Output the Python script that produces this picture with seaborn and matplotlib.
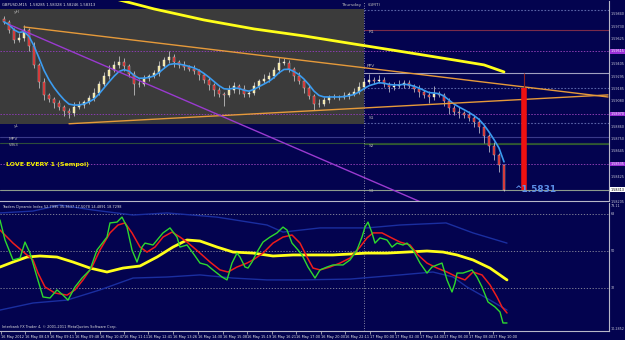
import numpy as np
import pandas as pd
import matplotlib
matplotlib.use("Agg")
import matplotlib.pyplot as plt
import seaborn as sns

# ---- price panel data (GBPUSD, M15), one entry per bar ----
FIRST_OPEN = 1.59795
CLOSES = [1.59771, 1.59701, 1.59614, 1.59631, 1.59701, 1.59562, 1.59397, 1.59249, 1.59136, 1.59101,
          1.59066, 1.59031, 1.58996, 1.58979, 1.59031, 1.59049, 1.59075, 1.59109, 1.59153, 1.59231,
          1.59301, 1.59353, 1.59397, 1.59423, 1.59388, 1.59318, 1.59231, 1.59231, 1.59283, 1.59301,
          1.59327, 1.59388, 1.59440, 1.59466, 1.59423, 1.59397, 1.59379, 1.59362, 1.59344, 1.59310,
          1.59266, 1.59223, 1.59179, 1.59144, 1.59136, 1.59179, 1.59214, 1.59188, 1.59144, 1.59153,
          1.59214, 1.59257, 1.59275, 1.59301, 1.59353, 1.59414, 1.59414, 1.59362, 1.59301, 1.59257,
          1.59196, 1.59127, 1.59057, 1.59057, 1.59092, 1.59118, 1.59118, 1.59118, 1.59127, 1.59144,
          1.59162, 1.59205, 1.59249, 1.59266, 1.59257, 1.59266, 1.59231, 1.59205, 1.59214, 1.59223,
          1.59240, 1.59214, 1.59188, 1.59162, 1.59136, 1.59118, 1.59144, 1.59136, 1.59083, 1.59022,
          1.58988, 1.58979, 1.58962, 1.58935, 1.58901, 1.58857, 1.58779, 1.58692, 1.58614, 1.58527,
          1.58313]
UP_WICK = [3, 2, 2, 4, 4, 2, 3, 2, 3, 2, 2, 3, 2, 3, 4, 3, 2, 3, 4, 3,
           3, 4, 3, 5, 3, 2, 3, 4, 3, 2, 3, 4, 3, 5, 3, 2, 3, 2, 3, 2,
           2, 3, 2, 3, 2, 4, 3, 2, 3, 2, 3, 2, 4, 3, 3, 5, 4, 3, 2, 3,
           2, 3, 2, 4, 3, 2, 3, 2, 3, 2, 3, 4, 3, 5, 3, 4, 3, 2, 3, 4,
           3, 3, 2, 3, 2, 3, 7, 3, 2, 3, 3, 4, 2, 3, 2, 3, 2, 2, 3, 2, 1]
DN_WICK = [2, 3, 3, 2, 3, 4, 3, 5, 4, 3, 4, 3, 4, 4, 3, 2, 3, 2, 3, 2,
           2, 3, 2, 3, 4, 3, 10, 3, 2, 3, 2, 3, 2, 3, 4, 3, 3, 2, 3, 4,
           3, 4, 5, 3, 10, 2, 3, 4, 3, 3, 2, 3, 2, 3, 2, 3, 2, 3, 4, 3,
           4, 3, 5, 3, 2, 3, 2, 3, 2, 3, 2, 2, 3, 2, 3, 2, 3, 4, 3, 2,
           3, 2, 3, 4, 3, 5, 3, 2, 4, 5, 3, 4, 3, 3, 4, 5, 6, 5, 4, 6, 1]

LONG_MA_BARS = [20, 30, 40, 50, 60, 70, 80, 90, 96, 100]
LONG_MA = [1.59997, 1.59884, 1.59788, 1.59710, 1.59649, 1.59579, 1.59510, 1.59440, 1.59397, 1.59336]

UPPER_TREND_BARS = [4, 120.8]
UPPER_TREND = [1.59727, 1.59118]
LOWER_TREND_BARS = [13, 120.8]
LOWER_TREND = [1.58885, 1.59136]
PURPLE_TREND_BARS = [1.2, 83.8]
PURPLE_TREND = [1.59745, 1.58196]

PRICE_TICKS = [1.59840, 1.59730, 1.59625, 1.59515, 1.59405, 1.59295, 1.59185, 1.59080,
               1.58970, 1.58860, 1.58750, 1.58645, 1.58535, 1.58425, 1.58205]
MARKED_LEVELS = [1.59515, 1.58970, 1.58535]
BID = 1.58313

# ---- Traders Dynamic Index ----
GREEN_BARS = [-0.8, 0.2, 1.8, 3.2, 4.2, 5.2, 6.6, 7.8, 9.2, 10.6, 11.8, 12.8, 14.2, 15.6, 17.2, 18.6,
              20.6, 21.2, 22.6, 23.6, 24.6, 25.6, 26.6, 27.6, 28.2, 29.8, 31.8, 33.2, 34.6, 35.2, 36.6,
              37.8, 39.2, 40.6, 41.8, 43.6, 44.6, 45.6, 46.6, 47.2, 48.2, 48.8, 49.6, 50.6, 51.8, 53.2,
              54.6, 55.8, 56.6, 57.6, 58.8, 59.6, 60.8, 62.2, 63.2, 64.6, 65.8, 67.8, 69.2, 70.6, 71.6,
              72.2, 72.8, 73.6, 74.2, 75.2, 76.6, 77.6, 78.6, 79.8, 80.6, 81.8, 83.2, 84.6, 85.6, 86.6,
              87.6, 88.6, 89.6, 90.2, 90.6, 91.8, 93.6, 94.6, 95.6, 96.8, 98.2, 99.2, 99.8, 100.6]
GREEN = [64.9, 55.3, 45.7, 46.6, 54.3, 49.0, 37.5, 27.9, 27.4, 31.3, 28.8, 26.4, 32.7, 37.0, 40.9, 50.5,
         56.7, 63.5, 63.9, 66.3, 61.5, 50.5, 44.7, 51.9, 53.8, 52.9, 58.7, 61.1, 56.7, 51.9, 52.9,
         49.0, 44.2, 43.3, 40.9, 37.5, 36.1, 44.2, 49.0, 47.1, 42.3, 41.8, 44.7, 49.5, 54.3, 56.7,
         58.7, 61.5, 60.1, 53.8, 50.5, 48.1, 42.3, 37.0, 40.9, 42.3, 43.3, 43.3, 45.7, 50.5, 56.7,
         61.5, 63.9, 58.7, 53.8, 56.3, 55.3, 51.9, 53.8, 52.9, 53.8, 50.5, 44.2, 39.4, 42.3, 43.3,
         44.2, 36.1, 30.3, 34.6, 39.4, 39.4, 40.9, 37.5, 32.7, 25.5, 23.1, 20.7, 15.4, 15.4]
RED_BARS = [-0.8, 1.8, 4.6, 5.8, 6.8, 8.2, 10.2, 12.6, 14.2, 15.8, 17.6, 19.2, 21.2, 22.8, 24.2, 25.6,
            27.2, 28.6, 30.2, 31.8, 33.6, 35.2, 36.6, 37.8, 39.2, 41.2, 43.2, 44.8, 46.6, 48.6, 49.8,
            51.8, 53.8, 55.8, 57.6, 59.2, 60.6, 61.8, 63.2, 65.2, 67.2, 69.2, 71.2, 72.6, 73.8, 75.6,
            77.2, 79.2, 81.2, 82.8, 84.6, 86.6, 88.6, 90.6, 92.2, 93.8, 95.6, 97.2, 98.6, 99.6, 100.6]
RED = [60.1, 53.8, 48.1, 45.7, 39.4, 32.7, 29.8, 28.8, 31.3, 36.1, 42.3, 50.5, 58.7, 62.5, 63.5, 58.7,
       51.9, 49.5, 51.9, 56.7, 59.1, 56.7, 54.3, 51.9, 49.0, 44.7, 40.9, 39.9, 42.3, 44.2, 45.7,
       49.0, 53.8, 56.7, 57.7, 53.8, 47.1, 41.8, 40.9, 42.3, 44.2, 46.6, 51.9, 56.3, 58.7, 58.7,
       56.7, 54.3, 52.9, 48.1, 44.2, 41.8, 39.9, 37.5, 36.1, 39.9, 38.5, 33.7, 27.9, 23.1, 20.2]
BASE_BARS = [-0.8, 1.8, 4.6, 7.2, 10.6, 13.8, 17.2, 20.6, 23.8, 27.2, 30.6, 33.8, 36.6, 39.2, 42.6,
             45.8, 49.8, 53.8, 57.8, 61.8, 65.8, 72.6, 76.6, 80.6, 84.6, 87.8, 90.6, 93.8, 97.2, 100.6]
BASE = [42.3, 44.7, 47.1, 47.6, 47.1, 44.7, 41.8, 39.9, 41.8, 42.8, 47.1, 51.9, 55.3, 54.8, 51.9,
        49.5, 49.0, 47.6, 48.1, 48.1, 48.1, 49.0, 49.0, 49.5, 50.0, 49.5, 48.1, 45.7, 41.8, 36.1]
BAND_BARS = [-0.8, 5.8, 11.2, 17.8, 25.8, 32.6, 42.6, 52.6, 55.8, 63.2, 72.6, 79.2, 88.4, 93.8, 100.6]
BAND_UP = [68.3, 69.2, 72.1, 69.7, 67.3, 68.3, 66.3, 62.5, 59.1, 61.1, 61.1, 62.5, 63.5, 58.7, 53.8]
LOW_BAND_BARS = [-0.8, 5.8, 12.6, 19.2, 25.8, 32.6, 39.2, 45.8, 52.6, 59.2, 69.2, 79.2, 85.8, 89.8,
                 92.6, 97.2, 100.6]
BAND_LOW = [21.6, 25.0, 26.4, 31.3, 37.0, 37.5, 38.5, 37.0, 36.1, 36.1, 36.5, 38.5, 39.9, 37.5,
            32.7, 26.4, 21.6]
TDI_LEVELS = [68, 50, 32]

TIME_BARS = [-0.6, 4.2, 9.2, 14.2, 19.2, 24.0, 28.8, 33.8, 38.8, 43.8, 48.6, 53.6, 58.4, 63.4,
             68.2, 73.2, 78.2, 83.2, 88.0, 93.0, 97.8]
TIME_LABELS = ["16 May 2012", "16 May 08:19", "16 May 09:11", "16 May 09:48", "16 May 10:47",
               "16 May 11:11", "16 May 12:41", "16 May 13:26", "16 May 14:30", "16 May 15:08",
               "16 May 15:19", "16 May 16:21", "16 May 17:00", "16 May 20:00", "16 May 22:11",
               "17 May 00:00", "17 May 02:30", "17 May 04:00", "17 May 06:00", "17 May 08:00",
               "17 May 10:00"]

BG = "#03034f"
W, H = 625, 340
X0, X1 = -0.8, 121.0
DAY_BAR = 72
SMALL = 2.4

sns.set_theme(style="dark")
plt.rcParams["font.family"] = ["DejaVu Sans"]

fig = plt.figure(figsize=(6.25, 3.4), dpi=100)
fig.patch.set_facecolor(BG)


def px_axes(top, bottom, right=609):
    return fig.add_axes([0, 1 - bottom / H, right / W, (bottom - top) / H])


ax = px_axes(1, 201)
ax2 = px_axes(203, 331)
for a in (ax, ax2):
    a.set_facecolor(BG)
    a.set_xlim(X0, X1)
    a.grid(False)
    for s in a.spines.values():
        s.set_visible(False)
    for side in ("right", "bottom"):
        a.spines[side].set_visible(True)
        a.spines[side].set_color("#b8b8c8")
        a.spines[side].set_linewidth(0.8)
ax.set_ylim(1.58213, 1.59953)
ax2.set_ylim(11.54, 73.08)
ax.set_xticks([])
ax.set_yticks([])
ax2.set_yticks([])

# previous-day box
ax.fill_between([X0, DAY_BAR], 1.58883, 1.59884, color="#3b3b3b", lw=0, zorder=0)

# horizontal levels
for lv in MARKED_LEVELS:
    ax.axhline(lv, color="#8a3cb0", lw=0.7, ls=(0, (1.5, 1.5)), zorder=1)
ax.axhline(1.58770, color="#3a3a8a", lw=0.8, zorder=1)
ax.axhline(1.58720, color="#2d4d3a", lw=0.8, zorder=1)
ax.axhline(BID, color="#8d9b8d", lw=0.8, zorder=1)
right_lv = [(1.59875, "#5a64a8", (0, (1.5, 1.5))), (1.59701, "#7a2a4a", "-"),
            (1.59327, "#a0a0c0", "-"), (1.59196, "#5a64a8", (0, (1.5, 1.5))),
            (1.58893, "#5a64a8", (0, (1.5, 1.5))), (1.58710, "#2f5a2f", "-")]
for lv, c, ls in right_lv:
    ax.plot([DAY_BAR, X1], [lv, lv], color=c, lw=0.8, ls=ls, zorder=1)

# day separator
for a in (ax, ax2):
    a.axvline(DAY_BAR, color="#b0b0c0", lw=0.6, ls=(0, (1, 2)), zorder=1)

# candles
closes = np.array(CLOSES)
opens = np.concatenate([[FIRST_OPEN], closes[:-1]])
bars = np.arange(len(closes))
highs = np.maximum(opens, closes) + np.array(UP_WICK) * 0.0001
lows = np.minimum(opens, closes) - np.array(DN_WICK) * 0.0001
ax.vlines(bars, lows, highs, color="#d8d8d8", lw=0.5, zorder=3)
up = closes >= opens
body_bottom = np.minimum(opens, closes)
body_h = np.maximum(np.abs(closes - opens), 0.00004)
ax.bar(bars[up], body_h[up], bottom=body_bottom[up], width=0.55, color="#f2e394",
       edgecolor="#ffffff", linewidth=0.3, zorder=4)
ax.bar(bars[~up], body_h[~up], bottom=body_bottom[~up], width=0.55, color="#d81818",
       edgecolor="#c8c8c8", linewidth=0.3, zorder=4)

# moving averages
ema = pd.Series(closes).ewm(span=5, adjust=False).mean()
sns.lineplot(x=bars, y=ema.values, ax=ax, color="#3b9cf0", lw=1.2, zorder=5)
sns.lineplot(x=LONG_MA_BARS, y=LONG_MA, ax=ax, color="#ffff1a", lw=2.0, zorder=5)

# trend lines
ax.plot(UPPER_TREND_BARS, UPPER_TREND, color="#e69a3a", lw=1.0, zorder=6)
ax.plot(LOWER_TREND_BARS, LOWER_TREND, color="#e69a3a", lw=1.0, zorder=6)
ax.plot(PURPLE_TREND_BARS, PURPLE_TREND, color="#9a3ad0", lw=1.0, zorder=6)

# projected target bar
ax.vlines(104, 1.59196, 1.59327, color="#8a2020", lw=0.8, zorder=6)
ax.vlines(104, BID, 1.59196, color="#ee1111", lw=4, zorder=7)
ax.text(102, BID, "^1.5831", color="#5b8ee6", fontsize=6.5, fontweight="bold",
        va="center", ha="left", zorder=8)

# level labels
lab = dict(color="#b0b0b0", fontsize=3.2, zorder=8)
for b, p, t in [(2, 1.59850, "yH"), (2, 1.58855, "yL"), (1, 1.58745, "MPV"),
                (1, 1.58690, "WS3"), (73, 1.59672, "R1"), (72.5, 1.59380, "PPV"),
                (73, 1.58925, "S1"), (73, 1.58685, "S2"), (73, 1.58290, "S3")]:
    ax.text(b, p, t, **lab)
ax.text(0.5, 1.58527, "LOVE EVERY 1 (Sempoi)", color="#f4f000", fontsize=4.5,
        fontweight="bold", va="center", zorder=8)

# right price scale
yt = ax.get_yaxis_transform()
for p in PRICE_TICKS:
    ax.text(1.003, p, f"{p:.5f}", transform=yt, color="#c8c8d8", fontsize=SMALL,
            va="center", ha="left", clip_on=False)
for p in MARKED_LEVELS:
    ax.text(1.003, p, f"{p:.5f}", transform=yt, color="#ffffff", fontsize=SMALL,
            va="center", ha="left", clip_on=False,
            bbox=dict(facecolor="#9a30d8", edgecolor="none", pad=0.3))
ax.text(1.003, BID, f"{BID:.5f}", transform=yt, color="#000000", fontsize=SMALL,
        va="center", ha="left", clip_on=False,
        bbox=dict(facecolor="#ffffff", edgecolor="none", pad=0.3))

# ---- indicator panel ----
for lv in TDI_LEVELS:
    ax2.axhline(lv, color="#9090a0", lw=0.6, ls=(0, (1.5, 2)), zorder=1)
sns.lineplot(x=BAND_BARS, y=BAND_UP, ax=ax2, color="#1a2ea0", lw=1.0, zorder=2)
sns.lineplot(x=LOW_BAND_BARS, y=BAND_LOW, ax=ax2, color="#1a2ea0", lw=1.0, zorder=2)
sns.lineplot(x=BASE_BARS, y=BASE, ax=ax2, color="#ffff1a", lw=2.0, zorder=3)
sns.lineplot(x=RED_BARS, y=RED, ax=ax2, color="#ee1c1c", lw=1.1, zorder=4)
sns.lineplot(x=GREEN_BARS, y=GREEN, ax=ax2, color="#2ed82e", lw=1.0, zorder=5)

yt2 = ax2.get_yaxis_transform()
for v, t in [(71.7, "73.11"), (68, "68"), (50, "50"), (32, "32"), (12.3, "10.2852")]:
    ax2.text(1.003, v, t, transform=yt2, color="#c8c8d8", fontsize=SMALL,
             va="center", ha="left", clip_on=False)

ax2.set_xticks(TIME_BARS)
ax2.set_xticklabels(TIME_LABELS, fontsize=2.5, color="#e8e8e8", ha="left")
ax2.tick_params(axis="x", length=2, width=0.5, color="#d0d0d0", pad=1.0, bottom=True)

fig.text(2 / W, 1 - 5 / H, "GBPUSD,M15  1.58285 1.58328 1.58246 1.58313",
         color="#e0e0e0", fontsize=2.7, va="center")
fig.text(361 / W, 1 - 5 / H, "Thursday", color="#b8b8b8", fontsize=3.2,
         va="center", ha="right")
fig.text(368 / W, 1 - 5 / H, "(GMT)", color="#b8b8b8", fontsize=3.2, va="center")
fig.text(2 / W, 1 - 207 / H, "Traders Dynamic Index 52.7995 35.3637 17.5078 14.4891 18.7298",
         color="#e0e0e0", fontsize=2.5, va="center")
fig.text(2 / W, 1 - 327 / H, "Interbank FX Trader 4, \u00a9 2001-2011 MetaQuotes Software Corp.",
         color="#e0e0e0", fontsize=2.5, va="center")

fig.savefig("out.png", dpi=100, facecolor=BG)
